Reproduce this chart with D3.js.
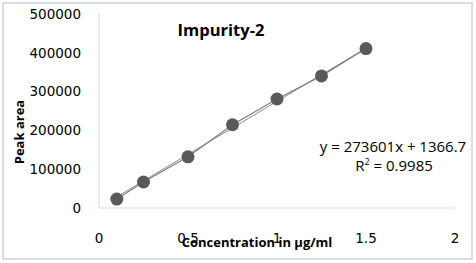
<!DOCTYPE html>
<html>
<head>
<meta charset="utf-8">
<script src="https://cdn.jsdelivr.net/npm/d3@7"></script>
<style>
  body { margin: 0; background: #fff; }
  svg { display: block; }
</style>
</head>
<body>
<div id="chart"></div>
<script>
// calibration data
var concentration = [0.1, 0.25, 0.5, 0.75, 1.0, 1.25, 1.5];
var peakArea = [23000, 67000, 132000, 214500, 281000, 340500, 411000];
var xTicks = [0, 0.5, 1, 1.5, 2];
var yTicks = [0, 100000, 200000, 300000, 400000, 500000];
var slope = 273601, intercept = 1366.7;

var W = 476, H = 263;
var svg = d3.select('#chart').append('svg')
  .attr('width', W)
  .attr('height', H);

// outer chart border
svg.append('rect')
  .attr('x', 3).attr('y', 3)
  .attr('width', 469).attr('height', 256)
  .attr('fill', '#fff')
  .attr('stroke', '#d9dee4')
  .attr('stroke-width', 2);

var x = d3.scaleLinear().domain([0, 2]).range([99, 455]);
var y = d3.scaleLinear().domain([0, 500000]).range([208, 14]);

// y axis line
svg.append('line')
  .attr('x1', x(0)).attr('x2', x(0))
  .attr('y1', y(500000) - 1).attr('y2', y(0))
  .attr('stroke', '#d9d9d9');
// x axis line
svg.append('line')
  .attr('x1', x(0)).attr('x2', x(2))
  .attr('y1', y(0)).attr('y2', y(0))
  .attr('stroke', '#d9d9d9');

var tickFont = '"DejaVu Sans", sans-serif';

svg.append('g').selectAll('text')
  .data(yTicks)
  .enter().append('text')
  .attr('x', 81)
  .attr('y', function(d) { return y(d); })
  .attr('dy', '0.36em')
  .attr('text-anchor', 'end')
  .style('font-family', tickFont)
  .style('font-size', '13.5px')
  .attr('fill', '#000')
  .text(function(d) { return d; });

svg.append('g').selectAll('text')
  .data(xTicks)
  .enter().append('text')
  .attr('x', function(d) { return x(d); })
  .attr('y', 243)
  .attr('text-anchor', 'middle')
  .style('font-family', tickFont)
  .style('font-size', '13.5px')
  .attr('fill', '#000')
  .text(function(d) { return d; });

// trendline
svg.append('line')
  .attr('x1', x(0.1)).attr('y1', y(slope * 0.1 + intercept))
  .attr('x2', x(1.5)).attr('y2', y(slope * 1.5 + intercept))
  .attr('stroke', '#8c8c8c')
  .attr('stroke-width', 1);

// series line
var line = d3.line()
  .x(function(d, i) { return x(concentration[i]); })
  .y(function(d) { return y(d); });

svg.append('path')
  .datum(peakArea)
  .attr('fill', 'none')
  .attr('stroke', '#7f7f7f')
  .attr('stroke-width', 1.2)
  .attr('d', line);

svg.append('g').selectAll('circle')
  .data(peakArea)
  .enter().append('circle')
  .attr('cx', function(d, i) { return x(concentration[i]); })
  .attr('cy', function(d) { return y(d); })
  .attr('r', 6.5)
  .attr('fill', '#5a5a5a');

var sans = '"Open Sans", sans-serif';

svg.append('text')
  .attr('x', 221).attr('y', 36)
  .attr('text-anchor', 'middle')
  .style('font-family', sans)
  .style('font-size', '16.5px')
  .style('font-weight', 'bold')
  .text('Impurity-2');

svg.append('text')
  .attr('transform', 'translate(24,132) rotate(-90)')
  .attr('text-anchor', 'middle')
  .style('font-family', sans)
  .style('font-size', '13px')
  .style('font-weight', 'bold')
  .text('Peak area');

svg.append('text')
  .attr('x', 257).attr('y', 247)
  .attr('text-anchor', 'middle')
  .style('font-family', sans)
  .style('font-size', '13px')
  .style('font-weight', 'bold')
  .text('Concentration in µg/ml');

svg.append('text')
  .attr('x', 393).attr('y', 152)
  .attr('text-anchor', 'middle')
  .style('font-family', sans)
  .style('font-size', '15px')
  .text('y = 273601x + 1366.7');

var r2 = svg.append('text')
  .attr('x', 394).attr('y', 171)
  .attr('text-anchor', 'middle')
  .style('font-family', sans)
  .style('font-size', '15px');
r2.append('tspan').text('R');
r2.append('tspan').attr('dy', -6).style('font-size', '9px').text('2');
r2.append('tspan').attr('dy', 6).text(' = 0.9985');
</script>
</body>
</html>
